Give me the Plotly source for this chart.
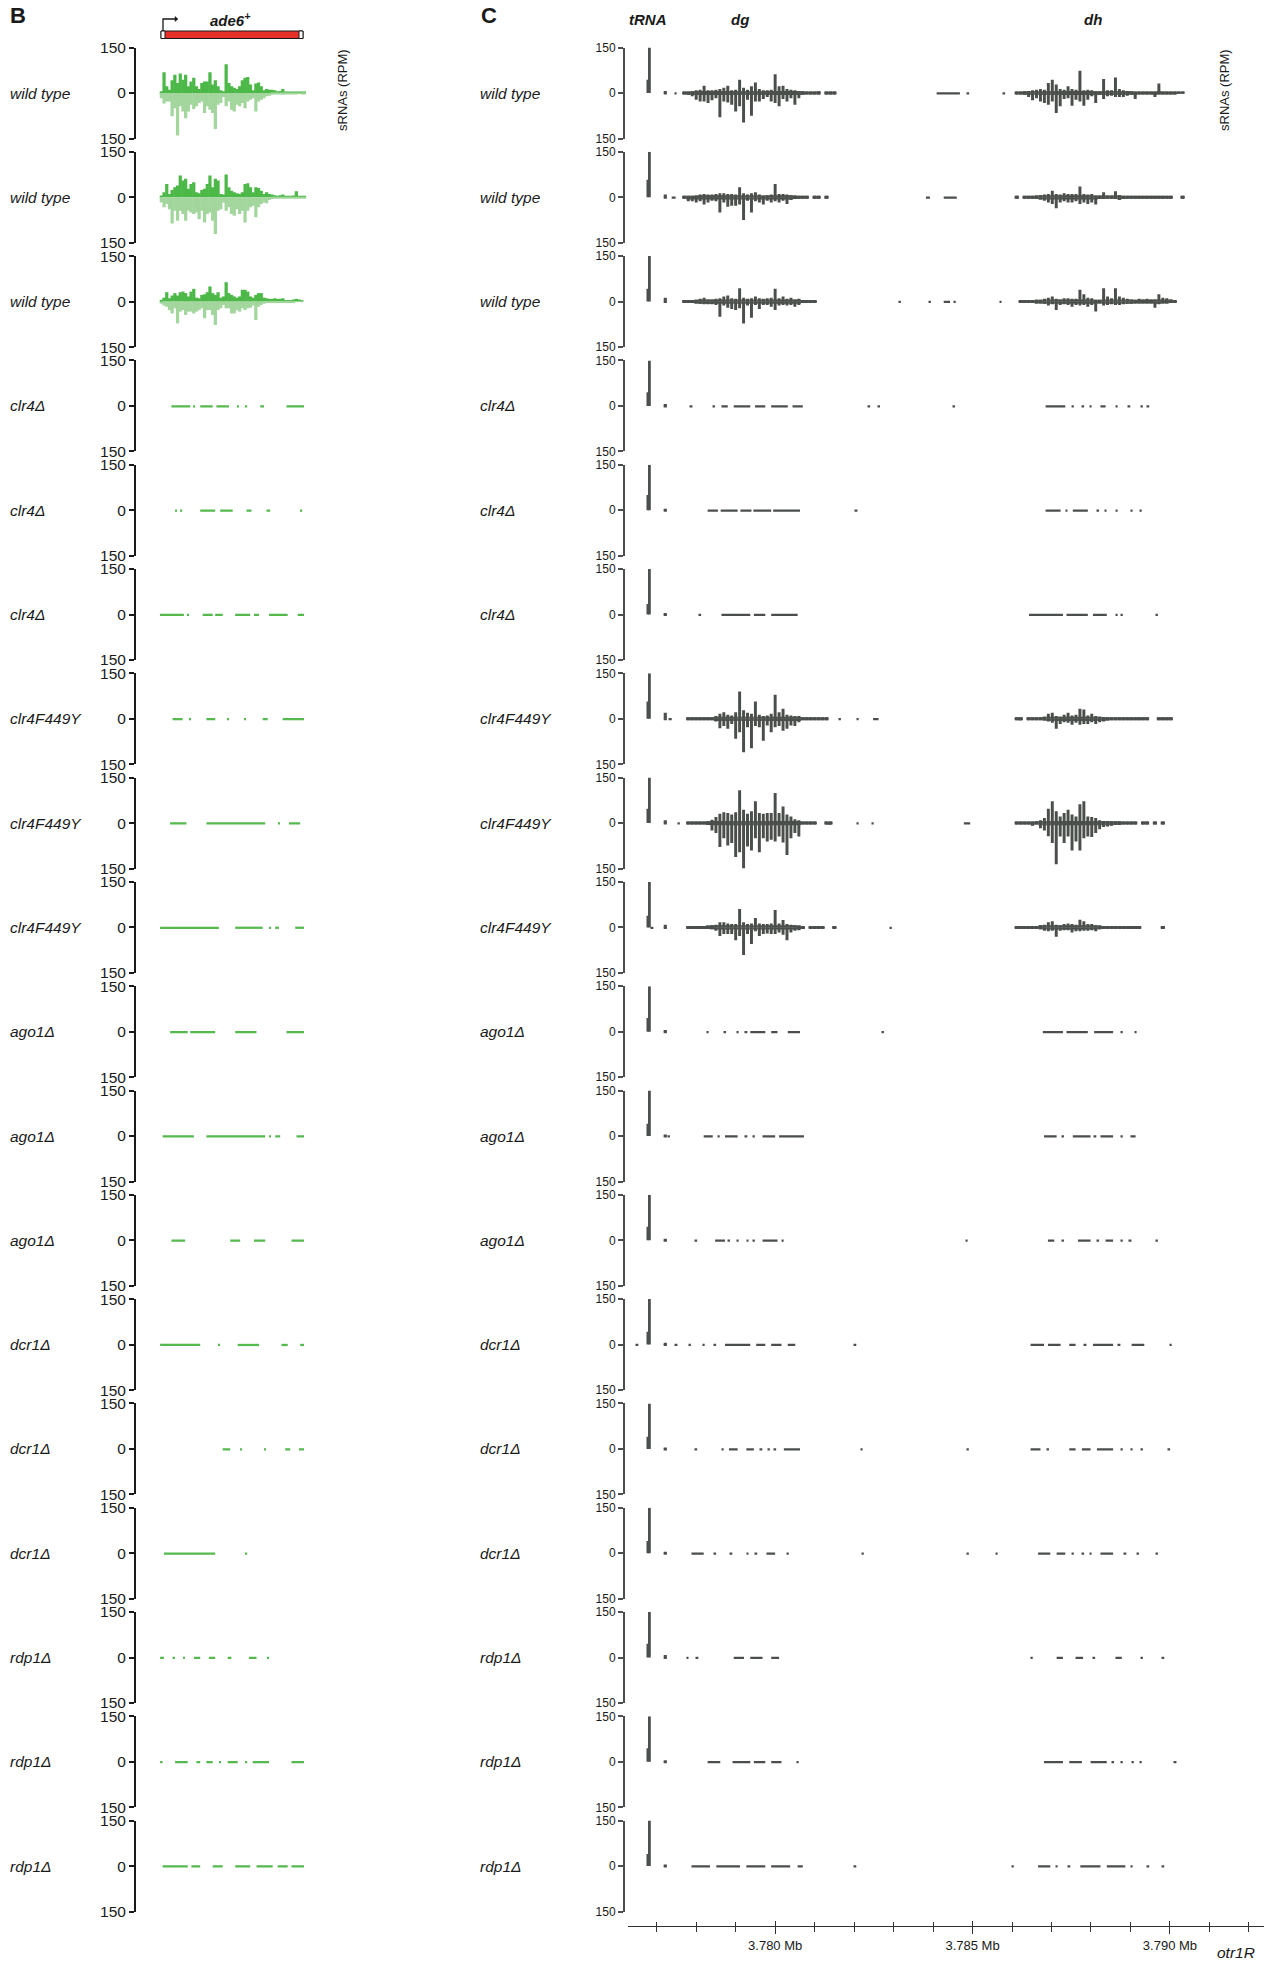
import plotly.graph_objects as go

W, H = 1276, 1961

# ---------------- data ----------------
row_labels = ["wild type", "wild type", "wild type", "clr4Δ", "clr4Δ", "clr4Δ",
              "clr4F449Y", "clr4F449Y", "clr4F449Y", "ago1Δ", "ago1Δ", "ago1Δ",
              "dcr1Δ", "dcr1Δ", "dcr1Δ", "rdp1Δ", "rdp1Δ", "rdp1Δ"]
y_tick_vals = [-150, 0, 150]
y_tick_text = ["150", "0", "150"]

# ---- panel B: ade6+ locus (bp from start of locus), 27-bp bins, RPM ----
b_bin_bp = 27
b_wt1_plus = [6,68,22,11,42,60,33,64,44,60,22,38,50,22,13,33,38,38,68,28,42,22,9,6,95,33,22,17,13,22,42,50,53,28,9,31,35,22,9,13,11,11,9,6,7,13,2,3,4,3,4,2,3,3]
b_wt1_minus = [17,35,28,28,77,50,140,44,61,83,61,39,53,44,33,28,66,44,55,66,119,39,33,13,44,28,55,61,39,44,33,50,28,22,17,61,28,22,17,11,9,6,4,3,3,6,3,2,2,2,2,1,2,2]
b_wt2_plus = [6,17,44,11,24,33,39,72,55,61,28,44,50,17,13,24,28,44,72,33,61,55,11,9,75,33,22,17,13,11,17,44,46,33,17,33,31,22,11,17,11,9,7,4,7,9,3,3,3,6,20,4,2,2]
b_wt2_minus = [17,33,22,39,86,44,77,44,55,77,44,50,55,50,72,44,83,55,50,77,121,44,39,17,44,33,55,61,39,55,44,83,44,33,28,66,33,22,17,20,9,6,4,3,3,3,2,2,2,2,2,2,2,2]
b_wt3_plus = [6,13,31,11,20,28,20,31,33,28,17,33,42,13,11,22,24,31,50,28,22,31,13,17,64,28,22,17,13,17,39,39,33,17,13,22,28,28,13,11,9,9,11,9,9,11,4,3,3,7,9,7,4]
b_wt3_minus = [7,13,17,28,39,22,72,33,28,44,33,33,39,33,28,22,55,28,28,44,77,28,22,11,22,22,39,39,28,33,22,28,22,20,13,61,17,11,7,4,3,3,2,2,2,2,2,2,2,2,1,1,1]

# sparse reads (start bp, end bp)
b_clr4_1 = [[114,302],[339,339],[402,527],[564,689],[777,777],[865,865],[1002,1040],[1265,1440]]
b_clr4_2 = [[164,164],[214,214],[402,552],[602,727],[865,915],[1065,1102],[1415,1415]]
b_clr4_3 = [[0,239],[277,277],[427,527],[552,627],[752,902],[940,990],[1090,1277],[1377,1440]]
b_f449y_1 = [[126,226],[302,302],[464,552],[677,677],[852,852],[1027,1077],[1227,1440]]
b_f449y_2 = [[101,264],[464,1052],[1190,1190],[1290,1402]]
b_f449y_3 = [[1,589],[752,1027],[1102,1102],[1152,1190],[1352,1440]]
b_ago1_1 = [[101,277],[302,552],[752,965],[1265,1440]]
b_ago1_2 = [[26,339],[464,1052],[1102,1102],[1152,1202],[1365,1440]]
b_ago1_3 = [[114,251],[702,802],[940,1052],[1315,1440]]
b_dcr1_1 = [[1,402],[589,589],[777,990],[1215,1277],[1402,1440]]
b_dcr1_2 = [[627,702],[814,814],[1052,1052],[1252,1302],[1390,1440]]
b_dcr1_3 = [[39,552],[865,865]]
b_rdp1_1 = [[1,39],[126,151],[239,239],[339,402],[489,552],[677,714],[889,965],[1077,1077]]
b_rdp1_2 = [[1,26],[151,277],[364,402],[464,527],[602,602],[677,777],[865,865],[927,1090],[1315,1440]]
b_rdp1_3 = [[26,277],[314,402],[527,627],[752,902],[965,1127],[1177,1277],[1315,1440]]
b_sparse_level = 2.5

gene_start_bp, gene_end_bp = 10, 1430
utr5_bp, utr3_bp = 40, 40

# ---- panel C: otr1R (kb), 0.1-kb bins in dg and dh, RPM ----
dg_start_kb = 3777.65
dh_start_kb = 3786.07
c_bin_kb = 0.1
trna_kb = [3776.772, 3776.815]
small_kb = 3777.217

c_wt1_dg_plus = [2,3,6,9,11,24,9,9,11,13,17,24,9,11,44,17,11,22,35,13,9,9,11,62,22,24,13,11,9,7,6,3,2,2,6,0,3,2,2]
c_wt1_dg_minus = [2,6,11,22,28,28,33,24,17,80,28,31,39,61,44,97,22,75,28,28,20,13,28,33,44,20,28,17,39,17,6,3,2,2,2,0,2,2,2]
c_wt1_dh_plus = [2,3,6,7,9,11,13,11,33,44,28,13,11,22,13,11,73,9,11,9,6,6,46,9,9,51,13,9,7,6,4,4,4,4,4,4,31,3,3,3,3,2,2]
c_wt1_dh_minus = [2,3,6,13,24,17,28,33,39,28,66,44,20,17,42,22,28,42,22,11,33,6,20,11,9,13,13,13,9,6,20,4,3,4,3,13,3,3,2,2,2,1,1]
c_wt2_dg_plus = [2,3,4,6,9,11,9,9,11,13,13,11,11,9,33,13,9,13,17,9,6,7,9,44,11,11,9,7,6,4,3,2,0,2,2,0,2,0,0]
c_wt2_dg_minus = [2,13,13,17,13,24,17,11,13,50,17,31,28,28,24,75,11,50,13,17,24,11,17,13,17,11,22,9,6,4,3,2,0,2,2,0,2,0,0]
c_wt2_dh_plus = [2,0,3,3,4,6,7,9,11,22,11,9,13,11,11,11,36,11,9,11,6,6,17,6,6,20,7,4,3,3,3,3,3,3,3,3,3,3,3,3,0,0,3]
c_wt2_dh_minus = [2,0,2,3,4,6,7,11,17,22,36,17,13,17,17,13,22,17,22,17,24,6,6,4,4,6,9,6,3,3,3,3,3,3,3,3,3,3,2,2,0,0,2]
c_wt3_dg_plus = [2,2,4,6,9,13,7,7,9,11,17,20,11,9,44,13,9,11,17,11,9,11,13,42,11,17,9,13,7,9,3,2,2,2,0,0,0,0,0]
c_wt3_dg_minus = [2,2,4,6,7,9,9,9,11,50,13,20,24,28,22,72,13,53,11,24,11,11,17,28,13,11,13,11,17,11,3,2,2,2,0,0,0,0,0]
c_wt3_dh_plus = [0,2,3,4,4,6,6,9,13,17,9,7,11,11,9,9,39,24,13,11,6,6,44,17,11,44,17,13,9,7,6,9,7,9,7,7,24,13,11,7,4,0,0]
c_wt3_dh_minus = [0,2,3,4,4,6,6,7,13,9,28,11,9,11,17,11,13,11,17,11,33,6,13,11,9,11,11,9,7,7,6,6,6,6,6,20,9,6,6,4,3,0,0]
c_f449y1_dg_plus = [0,2,3,3,3,3,3,4,9,17,22,13,11,22,90,28,20,17,57,13,9,11,17,79,22,33,13,11,9,9,4,2,3,2,2,2,2,0,0]
c_f449y1_dg_minus = [0,2,3,3,3,3,3,4,9,31,24,33,17,66,44,110,28,97,24,28,72,22,44,28,24,39,33,22,24,11,4,2,2,2,2,2,2,0,0]
c_f449y1_dh_plus = [2,3,0,3,3,4,4,7,17,20,9,7,13,20,11,13,33,31,11,17,9,7,6,4,3,3,3,3,3,3,2,2,2,2,0,0,2,2,2,2]
c_f449y1_dh_minus = [2,2,0,3,3,3,4,6,9,13,33,17,11,13,20,13,20,17,17,11,17,11,9,6,3,3,3,3,3,3,2,2,2,2,0,0,2,2,2,2]
c_f449y2_dg_plus = [0,2,3,4,4,4,6,11,20,31,36,33,28,36,108,44,31,39,72,33,31,33,33,99,33,55,28,22,13,9,3,3,3,2,0,0,2,2,0]
c_f449y2_dg_minus = [0,2,3,4,4,4,6,24,33,79,50,74,66,112,96,150,77,90,50,96,50,61,55,61,44,64,105,50,33,44,3,3,3,2,0,0,2,2,0]
c_f449y2_dh_plus = [3,3,3,3,4,6,9,17,47,72,39,22,33,44,28,22,62,72,22,20,17,9,7,7,6,6,6,4,4,3,2,0,2,2,0,2,0,2]
c_f449y2_dh_minus = [2,2,3,4,9,4,17,24,43,66,136,44,66,44,90,61,90,50,44,46,33,20,13,11,9,6,6,4,4,3,2,0,2,2,0,2,0,2]
c_f449y3_dg_plus = [0,2,3,3,4,4,6,7,9,17,17,13,11,11,61,17,11,13,31,13,11,11,13,57,13,24,11,9,7,6,3,0,2,2,2,2,0,0,2]
c_f449y3_dg_minus = [0,2,3,3,4,4,4,6,11,28,22,22,22,42,28,91,22,55,13,28,22,20,22,22,17,24,42,17,11,9,3,0,2,2,2,2,0,0,2]
c_f449y3_dh_plus = [2,2,3,3,3,4,7,9,17,20,9,7,11,13,11,9,25,20,11,11,7,6,4,4,4,4,4,4,4,4,4,3,0,0,0,0,0,3]
c_f449y3_dh_minus = [2,2,2,3,3,4,6,11,13,11,31,11,9,9,17,13,13,11,11,9,13,6,3,3,3,3,3,3,3,3,3,3,0,0,0,0,0,2]

c_trna_high = [150,150,150,150,150,150,150,150,150,150,150,150,150,150,150,150,150,150]
c_trna_low = [44,58,42,45,50,35,57,47,38,45,40,45,42,40,40,45,45,40]
c_small = [7,9,13,6,5,4,20,9,9,6,4,5,6,4,3,8,3,5]

# sparse reads (start kb, end kb)
c_wt1_sparse = [[3777.48,3777.48],[3784.09,3784.68],[3784.89,3784.89],[3785.80,3785.80]]
c_wt2_sparse = [[3777.38,3777.48],[3783.82,3783.92],[3784.27,3784.60]]
c_wt3_sparse = [[3783.16,3783.16],[3783.92,3783.92],[3784.27,3784.43],[3784.55,3784.55],[3785.71,3785.71]]
c_clr4_1 = [[3777.88,3777.88],[3778.45,3778.45],[3778.64,3778.80],[3778.95,3779.37],[3779.49,3779.75],[3779.90,3780.32],[3780.44,3780.70],[3782.38,3782.38],[3782.63,3782.63],[3784.53,3784.53],[3786.85,3787.35],[3787.54,3787.54],[3787.80,3787.80],[3787.99,3787.99],[3788.24,3788.37],[3788.65,3788.65],[3788.97,3788.97],[3789.29,3789.29],[3789.45,3789.45]]
c_clr4_2 = [[3778.29,3778.55],[3778.62,3779.05],[3779.12,3779.40],[3779.45,3779.90],[3779.95,3780.63],[3782.06,3782.06],[3786.85,3787.23],[3787.38,3787.38],[3787.54,3787.92],[3788.18,3788.18],[3788.37,3788.37],[3788.65,3788.65],[3789.03,3789.03],[3789.26,3789.26]]
c_clr4_3 = [[3778.10,3778.10],[3778.64,3779.37],[3779.46,3779.75],[3779.90,3780.57],[3786.43,3787.29],[3787.38,3787.92],[3788.05,3788.40],[3788.65,3788.65],[3788.78,3788.78],[3789.67,3789.67]]
c_f449y1_sparse = [[3777.30,3777.38],[3781.64,3781.64],[3782.09,3782.09],[3782.48,3782.62],[3786.15,3786.25]]
c_f449y2_sparse = [[3777.56,3777.56],[3781.31,3781.41],[3782.09,3782.09],[3782.47,3782.47],[3784.78,3784.94]]
c_f449y3_sparse = [[3776.89,3776.89],[3781.51,3781.51],[3782.93,3782.93]]
c_ago1_1 = [[3778.29,3778.29],[3778.73,3778.73],[3779.05,3779.05],[3779.27,3779.27],[3779.37,3779.75],[3779.90,3780.06],[3780.32,3780.63],[3782.73,3782.73],[3786.78,3787.29],[3787.38,3787.92],[3788.08,3788.56],[3788.78,3788.78],[3789.13,3789.13]]
c_ago1_2 = [[3777.31,3777.31],[3778.19,3778.42],[3778.57,3778.57],[3778.73,3779.05],[3779.27,3779.27],[3779.46,3779.46],[3779.68,3780.00],[3780.10,3780.73],[3786.81,3787.13],[3787.29,3787.29],[3787.54,3787.99],[3788.11,3788.11],[3788.24,3788.56],[3788.78,3788.78],[3789.00,3789.13]]
c_ago1_3 = [[3778.00,3778.00],[3778.48,3778.73],[3778.83,3778.83],[3779.05,3779.05],[3779.30,3779.30],[3779.46,3779.46],[3779.68,3780.06],[3780.19,3780.19],[3784.85,3784.85],[3786.91,3787.07],[3787.29,3787.29],[3787.67,3787.99],[3788.18,3788.18],[3788.37,3788.56],[3788.78,3788.78],[3789.00,3789.00],[3789.67,3789.67]]
c_dcr1_1 = [[3776.51,3776.51],[3777.50,3777.50],[3777.84,3777.84],[3778.19,3778.19],[3778.48,3778.48],[3778.73,3779.37],[3779.52,3779.75],[3779.90,3780.16],[3780.32,3780.51],[3782.03,3782.03],[3786.47,3786.81],[3786.91,3787.23],[3787.45,3787.61],[3787.86,3787.86],[3788.05,3788.56],[3788.72,3788.72],[3789.03,3789.35],[3790.02,3790.02]]
c_dcr1_2 = [[3778.00,3778.00],[3778.67,3778.67],[3778.83,3779.05],[3779.27,3779.46],[3779.65,3779.65],[3779.84,3779.84],[3780.00,3780.00],[3780.22,3780.63],[3782.19,3782.19],[3784.88,3784.88],[3786.47,3786.72],[3786.91,3786.91],[3787.45,3787.61],[3787.77,3787.99],[3788.15,3788.56],[3788.78,3788.78],[3789.03,3789.03],[3789.29,3789.29],[3789.98,3789.98]]
c_dcr1_3 = [[3777.88,3778.19],[3778.48,3778.48],[3778.89,3778.89],[3779.30,3779.30],[3779.52,3779.52],[3779.78,3780.00],[3780.32,3780.32],[3782.22,3782.22],[3784.88,3784.88],[3785.61,3785.61],[3786.66,3786.97],[3787.13,3787.35],[3787.54,3787.54],[3787.80,3787.80],[3787.99,3787.99],[3788.24,3788.56],[3788.87,3788.87],[3789.19,3789.19],[3789.67,3789.67]]
c_rdp1_1 = [[3777.78,3777.78],[3778.03,3778.03],[3778.95,3779.21],[3779.37,3779.68],[3779.90,3780.10],[3786.50,3786.50],[3787.13,3787.29],[3787.61,3787.80],[3788.08,3788.08],[3788.62,3788.78],[3789.29,3789.29],[3789.83,3789.83]]
c_rdp1_2 = [[3778.29,3778.61],[3778.92,3779.37],[3779.46,3779.75],[3779.90,3780.16],[3780.57,3780.57],[3786.81,3787.29],[3787.45,3787.77],[3787.99,3788.40],[3788.56,3788.56],[3788.78,3788.78],[3789.06,3789.06],[3789.26,3789.26],[3790.14,3790.14]]
c_rdp1_3 = [[3777.88,3778.35],[3778.51,3779.11],[3779.27,3779.75],[3779.90,3780.38],[3780.57,3780.70],[3782.03,3782.03],[3786.02,3786.02],[3786.66,3786.97],[3787.13,3787.13],[3787.45,3787.45],[3787.73,3788.24],[3788.40,3788.87],[3789.03,3789.03],[3789.45,3789.45],[3789.83,3789.83]]
c_sparse_level = 2.5

# ---------------- styling / geometry ----------------
FONT = "Liberation Sans, Arial, sans-serif"
INK = "#1a1a1a"
GREEN_DARK = "#4cb848"
GREEN_LIGHT = "#a3d69d"
GREEN_MID = "#55b94e"
GRAY = "#4b4f4b"

ROW0, ROWSTEP, HALF = 93.0, 104.3, 45.5
B_AXIS_X, C_AXIS_X = 135, 624
C_X0, C_X1 = 627.5, 1263.5
C_RANGE = [3.77626, 3.79237]
BOTTOM_AXIS_Y = 1926
C_CORE = 7          # height of the solid core of each binned bar (RPM)
KB = 0.001


def px(x):
    return x / W


def py(y):
    return 1 - y / H


def yname(n):
    return "y" if n == 1 else f"y{n}"


def ykey(n):
    return "yaxis" if n == 1 else f"yaxis{n}"


fig = go.Figure()


def bars(x, y, width, base, color, xa, ya):
    fig.add_trace(go.Bar(x=x, y=y, width=width, base=base,
                         marker=dict(color=color, line=dict(width=0)),
                         xaxis=xa, yaxis=ya, hoverinfo="skip", showlegend=False))


def dense_b(plus, minus, step, cp, cm, ya):
    xs = [(i + 0.5) * step for i in range(len(plus))]
    bars(xs, plus, [step * 1.2] * len(plus), 0, cp, "x", ya)
    xs = [(i + 0.5) * step for i in range(len(minus))]
    bars(xs, [-v for v in minus], [step * 1.2] * len(minus), 0, cm, "x", ya)


def dense_c(plus, minus, start, step, ya):
    for vals, sign in ((plus, 1), (minus, -1)):
        xs = [(start + (i + 0.5) * step) * KB for i in range(len(vals))]
        core = [sign * min(v, C_CORE) for v in vals]
        spike = [sign * v for v in vals]
        bars(xs, core, [step * 1.05 * KB] * len(vals), 0, GRAY, "x2", ya)
        bars(xs, spike, [step * 0.75 * KB] * len(vals), 0, GRAY, "x2", ya)


def sparse(intervals, level, minw, color, xa, ya, scale=1.0):
    xs = [(s + e) / 2 * scale for s, e in intervals]
    ws = [max(e - s, minw) * scale for s, e in intervals]
    bars(xs, [2 * level] * len(xs), ws, -level, color, xa, ya)


# ---- panel B traces ----
b_dense = [(b_wt1_plus, b_wt1_minus), (b_wt2_plus, b_wt2_minus), (b_wt3_plus, b_wt3_minus)]
b_sparse = [b_clr4_1, b_clr4_2, b_clr4_3, b_f449y_1, b_f449y_2, b_f449y_3,
            b_ago1_1, b_ago1_2, b_ago1_3, b_dcr1_1, b_dcr1_2, b_dcr1_3,
            b_rdp1_1, b_rdp1_2, b_rdp1_3]
for i in range(18):
    ya = yname(2 * i + 1)
    if i < 3:
        p, m = b_dense[i]
        dense_b(p, m, b_bin_bp, GREEN_DARK, GREEN_LIGHT, ya)
    else:
        sparse(b_sparse[i - 3], b_sparse_level, 14, GREEN_MID, "x", ya)

# ---- panel C traces ----
c_dense = {0: (c_wt1_dg_plus, c_wt1_dg_minus, c_wt1_dh_plus, c_wt1_dh_minus),
           1: (c_wt2_dg_plus, c_wt2_dg_minus, c_wt2_dh_plus, c_wt2_dh_minus),
           2: (c_wt3_dg_plus, c_wt3_dg_minus, c_wt3_dh_plus, c_wt3_dh_minus),
           6: (c_f449y1_dg_plus, c_f449y1_dg_minus, c_f449y1_dh_plus, c_f449y1_dh_minus),
           7: (c_f449y2_dg_plus, c_f449y2_dg_minus, c_f449y2_dh_plus, c_f449y2_dh_minus),
           8: (c_f449y3_dg_plus, c_f449y3_dg_minus, c_f449y3_dh_plus, c_f449y3_dh_minus)}
c_sparse = [c_wt1_sparse, c_wt2_sparse, c_wt3_sparse, c_clr4_1, c_clr4_2, c_clr4_3,
            c_f449y1_sparse, c_f449y2_sparse, c_f449y3_sparse, c_ago1_1, c_ago1_2, c_ago1_3,
            c_dcr1_1, c_dcr1_2, c_dcr1_3, c_rdp1_1, c_rdp1_2, c_rdp1_3]
for i in range(18):
    ya = yname(2 * i + 2)
    # tRNA peak and the small peak next to it
    bars([trna_kb[0] * KB, trna_kb[1] * KB, small_kb * KB],
         [c_trna_low[i], c_trna_high[i], c_small[i]],
         [0.05 * KB, 0.07 * KB, 0.08 * KB], 0, GRAY, "x2", ya)
    bars([small_kb * KB], [-2], [0.08 * KB], 0, GRAY, "x2", ya)
    if i in c_dense:
        gp, gm, hp, hm = c_dense[i]
        dense_c(gp, gm, dg_start_kb, c_bin_kb, ya)
        dense_c(hp, hm, dh_start_kb, c_bin_kb, ya)
    sparse(c_sparse[i], c_sparse_level, 0.05, GRAY, "x2", ya, KB)

# helper trace so that the crossing-tick axis exists
fig.add_trace(go.Scatter(x=[None], y=[None], xaxis="x3", yaxis=yname(36),
                         mode="markers", showlegend=False, hoverinfo="skip"))

# ---------------- layout ----------------
layout = dict(width=W, height=H, margin=dict(l=0, r=0, t=0, b=0),
              paper_bgcolor="white", plot_bgcolor="rgba(0,0,0,0)",
              barmode="overlay", showlegend=False,
              font=dict(family=FONT, color=INK))

layout["xaxis"] = dict(domain=[px(140), px(340)], range=[-200, 1800], visible=False,
                       fixedrange=True, anchor="y")
axis_common = dict(showgrid=False, zeroline=False, fixedrange=True)
layout["xaxis2"] = dict(domain=[px(C_X0), px(C_X1)], range=C_RANGE, anchor="free",
                        position=py(BOTTOM_AXIS_Y), showline=True, linecolor="#333333",
                        linewidth=1.3, ticks="outside", ticklen=7, tickwidth=1.3,
                        tickcolor="#333333", tickmode="linear", tick0=3.780, dtick=0.005,
                        tickformat=".3f", ticksuffix=" Mb",
                        tickfont=dict(size=13, family=FONT, color=INK),
                        minor=dict(ticks="outside", ticklen=5, tickwidth=1,
                                   tickcolor="#333333", tick0=3.777, dtick=0.001),
                        automargin=False, **axis_common)
layout["xaxis3"] = dict(domain=[px(C_X0), px(C_X1)], range=C_RANGE, anchor="free",
                        overlaying="x2", position=py(BOTTOM_AXIS_Y), showline=False,
                        ticks="inside", ticklen=5, tickwidth=1.3, tickcolor="#333333",
                        tickmode="linear", tick0=3.780, dtick=0.005, showticklabels=False,
                        minor=dict(ticks="inside", ticklen=4, tickwidth=1,
                                   tickcolor="#333333", tick0=3.777, dtick=0.001),
                        automargin=False, **axis_common)

for i in range(18):
    zero = ROW0 + ROWSTEP * i
    dom = [py(zero + HALF), py(zero - HALF)]
    layout[ykey(2 * i + 1)] = dict(domain=dom, range=[-150, 150], anchor="free",
                                   position=px(B_AXIS_X), tickmode="array",
                                   tickvals=y_tick_vals, ticktext=y_tick_text,
                                   ticks="outside", ticklen=5, tickwidth=2, tickcolor=INK,
                                   showline=True, linecolor=INK, linewidth=2,
                                   tickfont=dict(size=15.5, family=FONT, color=INK),
                                   automargin=False, **axis_common)
    layout[ykey(2 * i + 2)] = dict(domain=dom, range=[-150, 150], anchor="free",
                                   position=px(C_AXIS_X), tickmode="array",
                                   tickvals=y_tick_vals, ticktext=y_tick_text,
                                   ticks="outside", ticklen=5, tickwidth=1.5, tickcolor=GRAY,
                                   showline=True, linecolor=GRAY, linewidth=2,
                                   tickfont=dict(size=12, family=FONT, color=INK),
                                   automargin=False, **axis_common)

annotations = []


def note(text, x, y, size, xanchor="center", angle=0):
    annotations.append(dict(text=text, x=px(x), y=py(y), xref="paper", yref="paper",
                            xanchor=xanchor, yanchor="middle", showarrow=False,
                            textangle=angle, font=dict(size=size, family=FONT, color=INK)))


for i, lab in enumerate(row_labels):
    zero = ROW0 + ROWSTEP * i
    note(f"<i>{lab}</i>", 8, zero, 15.5, "left")
    note(f"<i>{lab}</i>", 478, zero, 15.5, "left")

note("<b>B</b>", 8, 16, 22, "left")
note("<b>C</b>", 479, 16, 22, "left")
note("<b><i>ade6<sup>+</sup></i></b>", 230, 19, 15)
note("<b><i>tRNA</i></b>", 648, 19, 15)
note("<b><i>dg</i></b>", 740, 19, 15)
note("<b><i>dh</i></b>", 1093, 19, 15)
note("sRNAs (RPM)", 343, 90, 13, angle=-90)
note("sRNAs (RPM)", 1225, 90, 13, angle=-90)
note("<i>otr1R</i>", 1257, 1952, 15.5, "right")
layout["annotations"] = annotations

# gene model for ade6+
gene_y0, gene_y1 = py(38.5), py(31)
shapes = [
    dict(type="rect", xref="x", yref="paper", x0=gene_start_bp, x1=gene_end_bp,
         y0=gene_y0, y1=gene_y1, fillcolor="#e8302a", line=dict(color=INK, width=1)),
    dict(type="rect", xref="x", yref="paper", x0=gene_start_bp, x1=gene_start_bp + utr5_bp,
         y0=gene_y0, y1=gene_y1, fillcolor="white", line=dict(color=INK, width=1)),
    dict(type="rect", xref="x", yref="paper", x0=gene_end_bp - utr3_bp, x1=gene_end_bp,
         y0=gene_y0, y1=gene_y1, fillcolor="white", line=dict(color=INK, width=1)),
]
ax0 = gene_start_bp + 20
ax1 = gene_start_bp + 140
atip = gene_start_bp + 170
shapes.append(dict(type="path", xref="x", yref="paper",
                   path=f"M {ax0},{py(31)} L {ax0},{py(19)} L {ax1},{py(19)}",
                   line=dict(color=INK, width=1.3)))
shapes.append(dict(type="path", xref="x", yref="paper",
                   path=f"M {ax1},{py(16.5)} L {atip},{py(19)} L {ax1},{py(21.5)} Z",
                   fillcolor=INK, line=dict(color=INK, width=0.5)))
layout["shapes"] = shapes

fig.update_layout(**layout)
fig.write_html("out.html", config={"displayModeBar": False},
               post_script="document.body.style.margin='0';document.body.style.padding='0';")
